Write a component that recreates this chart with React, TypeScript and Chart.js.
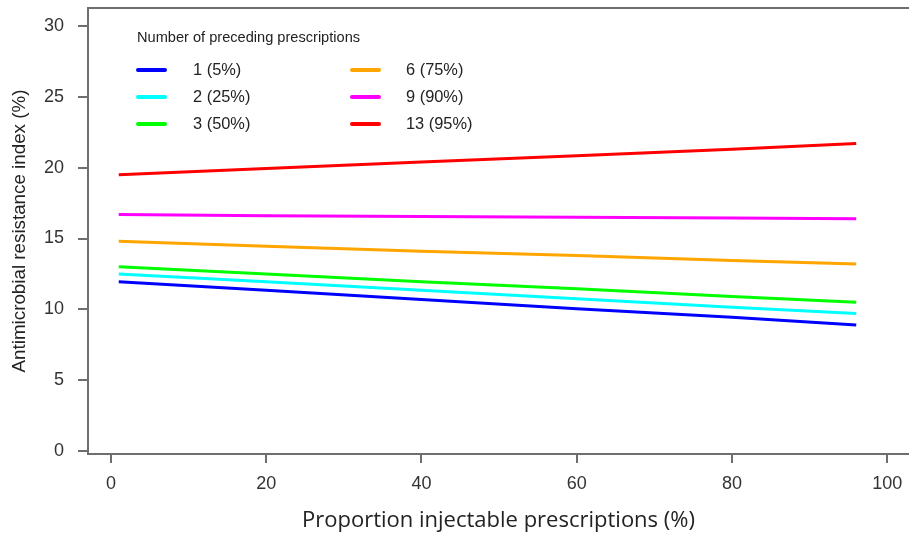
import React, { useEffect, useRef } from "react";
import { Chart, registerables } from "chart.js";

Chart.register(...registerables);

// Data
const xValues = [1, 20, 40, 60, 80, 96];
const seriesLabels = ["1 (5%)", "2 (25%)", "3 (50%)", "6 (75%)", "9 (90%)", "13 (95%)"];
const seriesColors = ["#0000FF", "#00FFFF", "#00FF00", "#FFA500", "#FF00FF", "#FF0000"];
const s1 = [11.95, 11.35, 10.7, 10.05, 9.45, 8.9];
const s2 = [12.5, 11.95, 11.35, 10.75, 10.15, 9.7];
const s3 = [13.0, 12.5, 11.95, 11.45, 10.9, 10.5];
const s6 = [14.8, 14.45, 14.1, 13.8, 13.45, 13.2];
const s9 = [16.7, 16.6, 16.55, 16.5, 16.45, 16.4];
const s13 = [19.5, 19.95, 20.4, 20.85, 21.3, 21.7];
const xTicks = [0, 20, 40, 60, 80, 100];
const yTicks = [0, 5, 10, 15, 20, 25, 30];
const legendTitle = "Number of preceding prescriptions";
const xTitle = "Proportion injectable prescriptions (%)";
const yTitle = "Antimicrobial resistance index (%)";

const allSeries = [s1, s2, s3, s6, s9, s13];

const boxPlugin = {
  id: "boxAndLegend",
  afterDraw(chart: any) {
    const { ctx, chartArea } = chart;
    ctx.save();
    // plot box
    ctx.strokeStyle = "#6e6e6e";
    ctx.lineWidth = 2;
    ctx.strokeRect(chartArea.left, chartArea.top, chartArea.right - chartArea.left + 10, chartArea.bottom - chartArea.top);
    // legend
    ctx.fillStyle = "#222";
    ctx.textBaseline = "middle";
    ctx.textAlign = "left";
    ctx.font = "14.6px 'Liberation Sans', Arial, sans-serif";
    ctx.fillText(legendTitle, 137, 38);
    const rows = [70, 97, 124];
    const cols = [{ lx: 138, tx: 193 }, { lx: 352, tx: 406 }];
    ctx.font = "16.4px 'Liberation Sans', Arial, sans-serif";
    chart.data.datasets.forEach((ds: any, i: number) => {
      const c = cols[Math.floor(i / 3)];
      const y = rows[i % 3];
      ctx.strokeStyle = ds.borderColor;
      ctx.lineWidth = 4;
      ctx.lineCap = "round";
      ctx.beginPath();
      ctx.moveTo(c.lx, y);
      ctx.lineTo(c.lx + 27, y);
      ctx.stroke();
      ctx.fillStyle = "#222";
      ctx.fillText(ds.label, c.tx, y);
    });
    ctx.restore();
  },
};

export default function App() {
  const ref = useRef<HTMLCanvasElement | null>(null);
  useEffect(() => {
    if (!ref.current) return;
    const chart = new Chart(ref.current, {
      type: "line",
      data: {
        datasets: allSeries.map((s, i) => ({
          label: seriesLabels[i],
          data: s.map((v, j) => ({ x: xValues[j], y: v })),
          borderColor: seriesColors[i],
          backgroundColor: seriesColors[i],
          borderWidth: 3,
          pointRadius: 0,
          tension: 0,
          fill: false,
        })),
      },
      options: {
        animation: false,
        responsive: false,
        maintainAspectRatio: false,
        layout: { padding: { top: 8, left: 0, right: 0, bottom: 0 } },
        plugins: { legend: { display: false }, tooltip: { enabled: false } },
        scales: {
          x: {
            type: "linear",
            min: -2.96,
            max: 102.8,
            afterBuildTicks: (scale: any) => {
              scale.ticks = xTicks.map((v) => ({ value: v }));
            },
            afterFit: (scale: any) => {
              scale.height = 80;
              scale.paddingLeft = 0;
              scale.paddingRight = 0;
            },
            border: { display: false },
            grid: {
              drawOnChartArea: false,
              drawTicks: true,
              tickLength: 9,
              color: "#6e6e6e",
              lineWidth: 2,
            },
            ticks: {
              color: "#333",
              padding: 10,
              maxRotation: 0,
              font: { family: "'Liberation Sans', Arial, sans-serif", size: 18 },
            },
            title: {
              display: true,
              text: xTitle,
              color: "#222",
              padding: { top: 0, bottom: 0 },
              font: { family: "'Open Sans', sans-serif", size: 22 },
            },
          },
          y: {
            type: "linear",
            min: -0.21,
            max: 31.27,
            afterBuildTicks: (scale: any) => {
              scale.ticks = yTicks.map((v) => ({ value: v }));
            },
            afterFit: (scale: any) => {
              scale.width = 88;
              scale.paddingTop = 0;
              scale.paddingBottom = 0;
            },
            border: { display: false },
            grid: {
              drawOnChartArea: false,
              drawTicks: true,
              tickLength: 10,
              color: "#6e6e6e",
              lineWidth: 2,
            },
            ticks: {
              color: "#333",
              padding: 14,
              font: { family: "'Liberation Sans', Arial, sans-serif", size: 18 },
            },
            title: {
              display: true,
              text: yTitle,
              color: "#222",
              padding: { top: 9, bottom: 0 },
              font: { family: "'Liberation Sans', Arial, sans-serif", size: 18.8 },
            },
          },
        },
      },
      plugins: [boxPlugin],
    } as any);
    return () => chart.destroy();
  }, []);
  return (
    <div style={{ position: "fixed", left: 0, top: 0, width: 909, height: 534, background: "#fff" }}>
      <canvas ref={ref} width={909} height={534} style={{ width: 909, height: 534, display: "block" }} />
    </div>
  );
}
